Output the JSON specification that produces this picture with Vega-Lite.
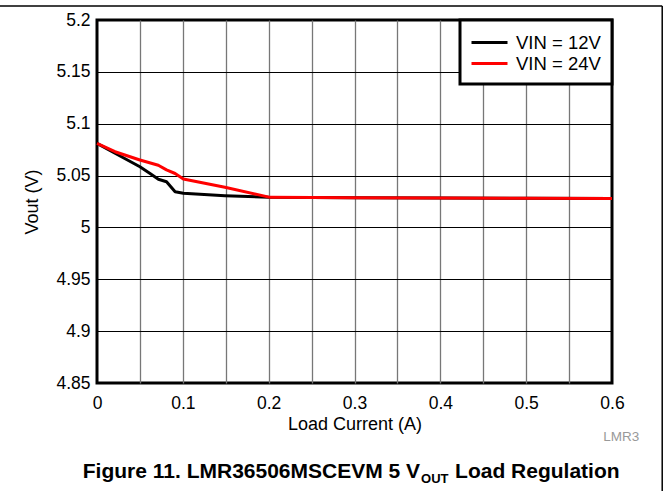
{
  "$schema": "https://vega.github.io/schema/vega-lite/v6.json",
  "width": 515,
  "height": 363,
  "autosize": {"type": "none"},
  "padding": {"left": 97, "top": 20, "right": 53, "bottom": 108},
  "background": "white",
  "config": {
    "font": "Liberation Sans",
    "view": {"stroke": "black", "strokeWidth": 3},
    "axis": {
      "ticks": false,
      "domain": false,
      "labelFont": "Liberation Sans",
      "titleFont": "Liberation Sans",
      "labelColor": "black",
      "titleColor": "black",
      "labelFontSize": 17.5,
      "titleFontSize": 18,
      "titleFontWeight": "normal"
    },
    "legend": {
      "labelFont": "Liberation Sans",
      "strokeWidth": 3
    }
  },
  "layer": [
    {
      "data": {
        "values": [
          {"current": 0, "vout": 5.081, "series": "VIN = 12V"},
          {"current": 0.021, "vout": 5.0715, "series": "VIN = 12V"},
          {"current": 0.05, "vout": 5.0585, "series": "VIN = 12V"},
          {"current": 0.0618, "vout": 5.052, "series": "VIN = 12V"},
          {"current": 0.0715, "vout": 5.0464, "series": "VIN = 12V"},
          {"current": 0.081, "vout": 5.044, "series": "VIN = 12V"},
          {"current": 0.091, "vout": 5.0344, "series": "VIN = 12V"},
          {"current": 0.1006, "vout": 5.033, "series": "VIN = 12V"},
          {"current": 0.149, "vout": 5.0306, "series": "VIN = 12V"},
          {"current": 0.2, "vout": 5.029, "series": "VIN = 12V"},
          {"current": 0.3, "vout": 5.0285, "series": "VIN = 12V"},
          {"current": 0.4, "vout": 5.0283, "series": "VIN = 12V"},
          {"current": 0.5, "vout": 5.0281, "series": "VIN = 12V"},
          {"current": 0.6, "vout": 5.028, "series": "VIN = 12V"},
          {"current": 0, "vout": 5.081, "series": "VIN = 24V"},
          {"current": 0.021, "vout": 5.073, "series": "VIN = 24V"},
          {"current": 0.05, "vout": 5.065, "series": "VIN = 24V"},
          {"current": 0.0714, "vout": 5.06, "series": "VIN = 24V"},
          {"current": 0.081, "vout": 5.0555, "series": "VIN = 24V"},
          {"current": 0.091, "vout": 5.052, "series": "VIN = 24V"},
          {"current": 0.1006, "vout": 5.0467, "series": "VIN = 24V"},
          {"current": 0.149, "vout": 5.0387, "series": "VIN = 24V"},
          {"current": 0.2016, "vout": 5.029, "series": "VIN = 24V"},
          {"current": 0.3, "vout": 5.0285, "series": "VIN = 24V"},
          {"current": 0.4, "vout": 5.0283, "series": "VIN = 24V"},
          {"current": 0.5, "vout": 5.0282, "series": "VIN = 24V"},
          {"current": 0.6, "vout": 5.028, "series": "VIN = 24V"}
        ]
      },
      "mark": {"type": "line", "strokeWidth": 3, "strokeJoin": "round"},
      "encoding": {
        "x": {
          "field": "current",
          "type": "quantitative",
          "scale": {"domain": [0, 0.6], "nice": false, "zero": false},
          "axis": {
            "title": "Load Current (A)",
            "values": [0, 0.05, 0.1, 0.15, 0.2, 0.25, 0.3, 0.35, 0.4, 0.45, 0.5, 0.55, 0.6],
            "format": "~g",
            "labelExpr": "abs(round(datum.value * 100) % 10) < 0.5 ? datum.label : ''",
            "labelPadding": 11,
            "titlePadding": 4,
            "labelFlush": false,
            "labelOverlap": false,
            "gridColor": "#777777",
            "gridWidth": 1.3,
            "gridOpacity": {"condition": {"test": "datum.value < 0.001 || datum.value > 0.599", "value": 0}, "value": 1}
          }
        },
        "y": {
          "field": "vout",
          "type": "quantitative",
          "scale": {"domain": [4.85, 5.2], "nice": false, "zero": false},
          "axis": {
            "title": "Vout (V)",
            "values": [4.85, 4.9, 4.95, 5, 5.05, 5.1, 5.15, 5.2],
            "format": "~g",
            "labelPadding": 7,
            "titlePadding": 14,
            "labelFlush": false,
            "labelOverlap": false,
            "gridColor": "black",
            "gridWidth": 1,
            "gridOpacity": {"condition": {"test": "datum.value < 4.851 || datum.value > 5.199", "value": 0}, "value": 1}
          }
        },
        "color": {
          "field": "series",
          "type": "nominal",
          "scale": {"domain": ["VIN = 12V", "VIN = 24V"], "range": ["black", "#ff0000"]},
          "legend": {
            "title": null,
            "orient": "top-right",
            "offset": 0,
            "padding": 11,
            "strokeColor": "black",
            "fillColor": "white",
            "symbolType": "M-1.8,0H1.8",
            "symbolSize": 400,
            "symbolStrokeWidth": 3,
            "symbolOffset": 7,
            "labelFontSize": 18.5,
            "labelColor": "black",
            "labelOffset": 15,
            "rowPadding": 0
          }
        }
      }
    },
    {
      "data": {"values": [{}]},
      "mark": {"type": "rule", "stroke": "black", "strokeWidth": 1.5},
      "encoding": {
        "x": {"datum": -0.1131, "type": "quantitative"},
        "x2": {"datum": 0.6585},
        "y": {"datum": 5.2135, "type": "quantitative"},
        "y2": {"datum": 5.2135}
      }
    },
    {
      "data": {"values": [{}]},
      "mark": {"type": "rule", "stroke": "black", "strokeWidth": 1.5},
      "encoding": {
        "x": {"datum": 0.6585, "type": "quantitative"},
        "x2": {"datum": 0.6585},
        "y": {"datum": 5.2135, "type": "quantitative"},
        "y2": {"datum": 4.7459}
      }
    },
    {
      "data": {"values": [{}]},
      "mark": {"type": "text", "text": "LMR3", "align": "right", "baseline": "middle", "font": "Liberation Sans", "fontSize": 13.5, "color": "#999999"},
      "encoding": {
        "x": {"datum": 0.6317, "type": "quantitative"},
        "y": {"datum": 4.7979, "type": "quantitative"}
      }
    },
    {
      "data": {"values": [{}]},
      "mark": {"type": "text", "text": "Figure 11. LMR36506MSCEVM 5 V", "align": "right", "baseline": "alphabetic", "font": "Liberation Sans", "fontSize": 21, "fontWeight": "bold", "color": "black"},
      "encoding": {
        "x": {"datum": 0.3764, "type": "quantitative"},
        "y": {"datum": 4.7583, "type": "quantitative"}
      }
    },
    {
      "data": {"values": [{}]},
      "mark": {"type": "text", "text": "OUT", "align": "left", "baseline": "alphabetic", "dx": 1, "dy": 5, "font": "Liberation Sans", "fontSize": 13, "fontWeight": "bold", "color": "black"},
      "encoding": {
        "x": {"datum": 0.3764, "type": "quantitative"},
        "y": {"datum": 4.7583, "type": "quantitative"}
      }
    },
    {
      "data": {"values": [{}]},
      "mark": {"type": "text", "text": "Load Regulation", "align": "left", "baseline": "alphabetic", "font": "Liberation Sans", "fontSize": 21, "fontWeight": "bold", "color": "black"},
      "encoding": {
        "x": {"datum": 0.4172, "type": "quantitative"},
        "y": {"datum": 4.7583, "type": "quantitative"}
      }
    }
  ]
}
